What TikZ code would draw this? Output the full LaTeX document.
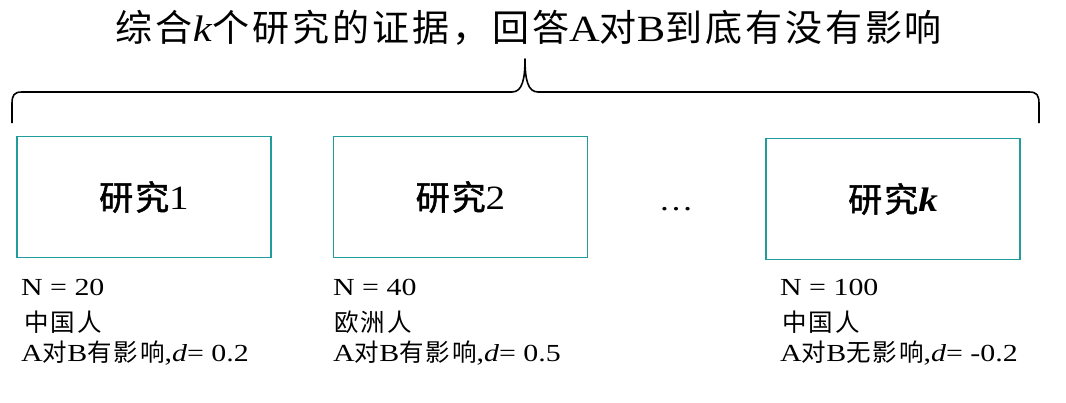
\documentclass[tikz,border=0pt]{standalone}
\usepackage{fontspec}
\setmainfont[FakeStretch=1.15]{Liberation Serif}
\newfontfamily\infofont[FakeStretch=1.22]{Liberation Serif}
\newfontfamily\cjk[LetterSpace=8]{Noto Sans CJK SC}
\newfontfamily\cjkb[FakeBold=1.5,LetterSpace=6]{Noto Sans CJK SC}
\definecolor{boxteal}{RGB}{32,156,154}
\begin{document}
\begin{tikzpicture}[x=1pt,y=-1pt,
  studybox/.style={draw=boxteal, line width=1.6pt, minimum width=254pt, minimum height=121pt, inner sep=0pt, font=\fontsize{34}{38}\selectfont},
  info/.style={anchor=west, inner sep=0pt, font=\fontsize{24.5}{28}\selectfont\infofont},
  brace/.style={draw=black, line width=1.6pt, line join=round}]
\useasboundingbox (0,0) rectangle (1066,402);
% title
\node[inner sep=0pt, font=\fontsize{37}{44}\selectfont] (title) at (529,28)
  {{\cjk 综合}\textit{k}{\cjk 个研究的证据，回答}A{\cjk 对}B{\cjk 到底有没有影响}};
% brace
\coordinate (bl) at (12,123);
\coordinate (br) at (1039,123);
\coordinate (tip) at (525,59);
\draw[brace] (bl) -- (12,104) .. controls (12,95) and (14,92) .. (22,92) -- (512,92)
  .. controls (522,92) and (525,80) .. (tip)
  .. controls (525,80) and (528,92) .. (538,92) -- (1029,92)
  .. controls (1037,92) and (1039,95) .. (1039,104) -- (br);
% boxes
\node[studybox] (s1) at (144,197) {{\cjkb 研究}1};
\node[studybox] (s2) at (460.5,197) {{\cjkb 研究}2};
\node[studybox] (sk) at (893,199) {{\cjkb 研究}\textit{\textbf{k}}};
\node[inner sep=0pt, anchor=base, font=\fontsize{30}{36}\selectfont] (dots) at (676,210) {…};
% info texts
\node[info] (n1) at (21,287) {N = 20};
\node[info] (p1) at (24,322) {\cjk 中国人};
\node[info] (e1) at (21,353) {A{\cjk 对}B{\cjk 有影响},\textit{d}= 0.2};
\node[info] (n2) at (333,287) {N = 40};
\node[info] (p2) at (334,322) {\cjk 欧洲人};
\node[info] (e2) at (333,353) {A{\cjk 对}B{\cjk 有影响},\textit{d}= 0.5};
\node[info] (n3) at (780,287) {N = 100};
\node[info] (p3) at (782,322) {\cjk 中国人};
\node[info] (e3) at (780,353) {A{\cjk 对}B{\cjk 无影响},\textit{d}= -0.2};
\end{tikzpicture}
\end{document}
